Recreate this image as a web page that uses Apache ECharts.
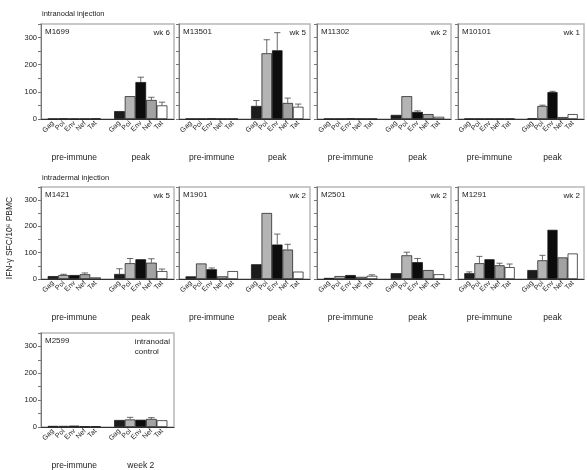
<!DOCTYPE html>
<html>
<head>
<meta charset="utf-8">
<script src="https://cdn.jsdelivr.net/npm/echarts@6/dist/echarts.min.js"></script>
<style>
    html, body { margin: 0; padding: 0; background: #fff; }
    #chart { width: 587px; height: 470px; }
</style>
</head>
<body>
<div id="chart"></div>
<script>
const antigens = ['Gag', 'Pol', 'Env', 'Nef', 'Tat']
const monkeys = ['M1699', 'M13501', 'M11302', 'M10101', 'M1421', 'M1901', 'M2501', 'M1291', 'M2599']
const timepoints = ['wk 6', 'wk 5', 'wk 2', 'wk 1', 'wk 5', 'wk 2', 'wk 2', 'wk 2', 'intranodal\ncontrol']
const groupNames = ['pre-immune', 'peak']
const controlGroupNames = ['pre-immune', 'week 2']
const yTicks = [0, 100, 200, 300]

// SFC per 10^6 PBMC, one row per animal, one value per antigen
const preImmune = [
    [1, 2, 1, 1, 2],
    [1, 1, 2, 1, 1],
    [1, 1, 2, 1, 1],
    [1, 1, 1, 1, 1],
    [11, 15, 15, 18, 6],
    [10, 59, 37, 10, 30],
    [4, 11, 15, 8, 12],
    [22, 60, 75, 52, 45],
    [4, 4, 5, 3, 3],
]
const preImmuneErr = [
    [0, 0, 0, 0, 0],
    [0, 0, 0, 0, 0],
    [0, 0, 0, 0, 0],
    [0, 0, 0, 0, 0],
    [0, 3, 0, 5, 0],
    [0, 0, 5, 0, 0],
    [0, 0, 0, 0, 4],
    [5, 26, 0, 8, 12],
    [0, 0, 0, 0, 0],
]
const peak = [
    [29, 84, 136, 70, 50],
    [48, 242, 253, 59, 45],
    [15, 84, 26, 18, 8],
    [2, 48, 99, 7, 18],
    [19, 60, 75, 62, 30],
    [56, 251, 131, 112, 28],
    [22, 90, 64, 34, 18],
    [34, 71, 187, 82, 97],
    [26, 28, 27, 30, 25],
]
const peakErr = [
    [0, 0, 18, 10, 12],
    [20, 50, 65, 18, 10],
    [0, 0, 4, 0, 0],
    [0, 3, 3, 0, 0],
    [20, 18, 0, 15, 8],
    [0, 0, 40, 20, 0],
    [0, 12, 14, 0, 0],
    [0, 19, 0, 0, 0],
    [0, 8, 0, 5, 0],
]

const barColors = ['#1c1c1c', '#b4b4b4', '#0c0c0c', '#a2a2a2', '#ffffff']
const colLeft = [41, 179, 317, 458]
const colWidth = [133, 131, 134, 126]
const rowTop = [24, 187, 333]
const rowHeight = [95, 92, 96]
const textColor = '#222'
const fontName = 'Liberation Sans'

function renderErrorBar(params, api) {
    var g = api.value(0)
    var v = api.value(1)
    var e = api.value(2)
    var s = api.value(3)
    var catW = api.size([1, 0])[0]
    var barW = catW * 0.8 / 5
    var base = api.coord([g, v])
    var top = api.coord([g, v + e])
    var x = base[0] + (s - 2) * barW
    var cap = barW * 0.3
    var style = { stroke: '#444', lineWidth: 0.8 }
    return {
        type: 'group',
        children: [
            { type: 'line', shape: { x1: x, y1: base[1], x2: x, y2: top[1] }, style: style },
            { type: 'line', shape: { x1: x - cap, y1: top[1], x2: x + cap, y2: top[1] }, style: style },
        ],
    }
}

function drawPanels() {
    var chart = echarts.init(document.getElementById('chart'))
    var grids = [], xAxes = [], yAxes = [], series = []
    var graphics = [
        { type: 'text', left: 42, top: 10, style: { text: 'intranodal injection', fontSize: 7.5, fill: textColor, fontFamily: fontName } },
        { type: 'text', left: 42, top: 174, style: { text: 'intradermal injection', fontSize: 7.5, fill: textColor, fontFamily: fontName } },
        {
            type: 'text', x: 10, y: 238, rotation: Math.PI / 2,
            style: { text: 'IFN-γ SFC/10⁶ PBMC', fontSize: 8.5, fill: textColor, fontFamily: fontName, align: 'center', verticalAlign: 'middle' },
        },
    ]

    $each(monkeys, function (i, name) {
        var row = Math.floor(i / 4)
        var col = i % 4
        var left = colLeft[col], top = rowTop[row]
        var width = colWidth[col], height = rowHeight[row]
        grids.push({
            left: left, top: top, width: width, height: height,
            show: true, borderColor: '#b8b8b8', borderWidth: 1.5, backgroundColor: '#fff',
        })
        xAxes.push({
            type: 'category', gridIndex: i,
            data: i == 8 ? controlGroupNames : groupNames,
            axisLine: { lineStyle: { color: '#333', width: 1 } },
            axisTick: { show: false },
            axisLabel: { margin: 34, fontSize: 8.5, color: textColor, fontFamily: fontName },
        })
        yAxes.push({
            type: 'value', gridIndex: i, min: 0, max: 350, interval: 50,
            splitLine: { show: false },
            axisLine: { show: true, lineStyle: { color: '#777', width: 1 } },
            axisTick: { show: true, length: 3, lineStyle: { color: '#777' } },
            axisLabel: {
                show: col == 0,
                fontSize: 7.5, margin: 4, color: textColor, fontFamily: fontName,
                formatter: function (v) { return yTicks.indexOf(v) >= 0 ? String(v) : '' },
            },
        })

        var errData = []
        $each(antigens, function (s, antigen) {
            series.push({
                type: 'bar', name: antigen, xAxisIndex: i, yAxisIndex: i,
                data: [preImmune[i][s], peak[i][s]],
                barGap: '0%', barCategoryGap: '20%',
                itemStyle: { color: barColors[s], borderColor: '#111', borderWidth: 0.7 },
                label: {
                    show: true, position: 'bottom', distance: 3, rotate: 45,
                    align: 'right', verticalAlign: 'middle',
                    fontSize: 7, color: textColor, fontFamily: fontName,
                    formatter: antigen,
                },
                animation: false, silent: true,
            })
            if (preImmuneErr[i][s] > 0) errData.push([0, preImmune[i][s], preImmuneErr[i][s], s])
            if (peakErr[i][s] > 0) errData.push([1, peak[i][s], peakErr[i][s], s])
        })
        series.push({
            type: 'custom', xAxisIndex: i, yAxisIndex: i, z: 5,
            renderItem: renderErrorBar, data: errData,
            encode: { x: 0, y: 1 }, animation: false, silent: true,
        })

        graphics.push({
            type: 'text', left: left + 4, top: top + 4,
            style: { text: name, fontSize: 8, fill: textColor, fontFamily: fontName },
        })
        graphics.push({
            type: 'text', right: 587 - (left + width) + 4, top: top + 4,
            style: { text: timepoints[i], fontSize: 8, fill: textColor, fontFamily: fontName, align: 'right', lineHeight: 10 },
        })
    })

    var option = {
        backgroundColor: '#fff',
        animation: false,
        grid: grids,
        xAxis: xAxes,
        yAxis: yAxes,
        series: series,
        graphic: graphics,
    }
    option && chart.setOption(option)
}

function $each(arr, fn) {
    for (var i = 0; i < arr.length; i++) fn(i, arr[i])
}

drawPanels()
</script>
</body>
</html>
